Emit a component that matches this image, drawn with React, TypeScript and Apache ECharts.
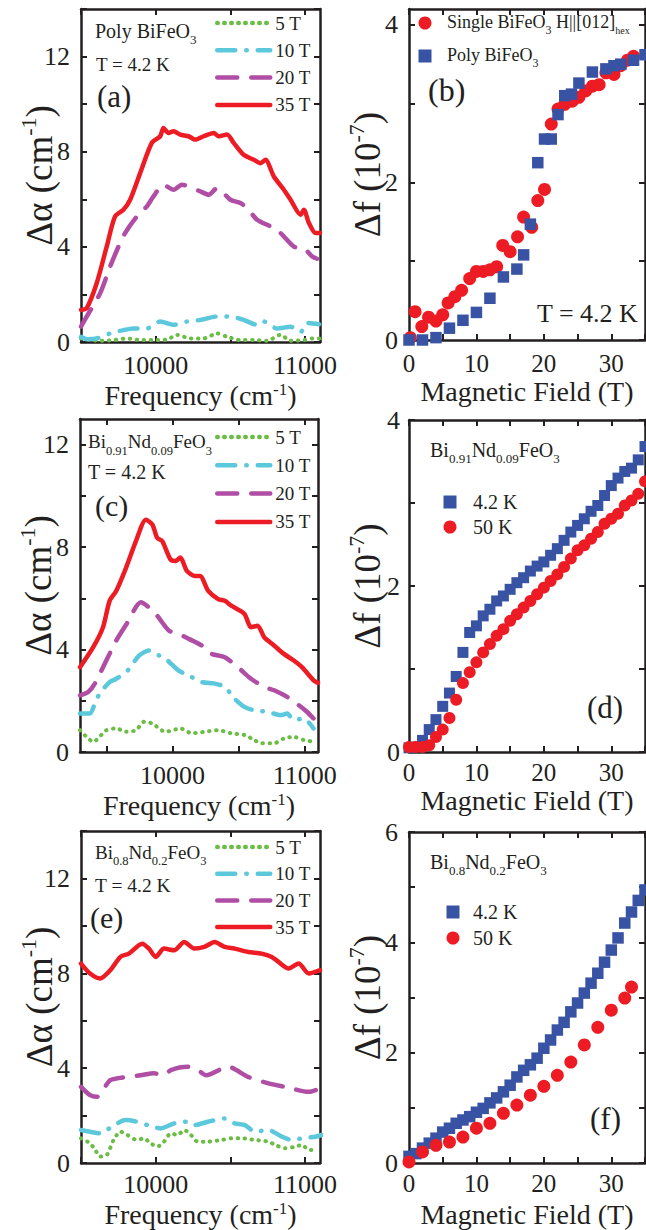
import React, { useEffect, useRef } from "react";
import * as echarts from "echarts";

type Pt = [number, number];

// ---------------- data ----------------
const FIELD_NAMES = ["5 T", "10 T", "20 T", "35 T"];

// (a) Poly BiFeO3, T = 4.2 K : [frequency cm-1, Δα cm-1]
const a5T: Pt[] = [[9500,0.15],[9560,0.1],[9627,0.05],[9717,0.08],[9806,0.15],[9896,0.08],[9985,0.08],[10075,0.1],[10142,0.3],[10232,0.15],[10321,0.15],[10411,0.36],[10478,0.22],[10567,0.08],[10657,0.08],[10746,0.05],[10836,0.3],[10903,0.05],[10992,0.08],[11048,0.15],[11100,0.15]];
const a10T: Pt[] = [[9500,0.22],[9540,0.12],[9605,0.15],[9695,0.36],[9784,0.5],[9851,0.57],[9941,0.57],[10030,0.86],[10120,0.72],[10209,0.86],[10299,0.93],[10411,1.07],[10500,1.07],[10589,0.93],[10679,0.72],[10724,0.86],[10813,0.57],[10903,0.64],[10970,0.42],[11015,0.8],[11093,0.75]];
const a20T: Pt[] = [[9500,0.65],[9538,1.07],[9628,2.05],[9695,3.17],[9751,4.01],[9795,4.58],[9874,5.28],[9941,5.7],[9985,6.12],[10052,6.61],[10120,6.4],[10176,6.61],[10299,6.33],[10355,6.19],[10411,6.47],[10500,5.98],[10567,5.84],[10612,5.63],[10679,5.14],[10768,4.86],[10836,4.58],[10925,4.01],[10992,3.94],[11048,3.59],[11080,3.5]];
const a35T: Pt[] = [[9500,1.35],[9538,1.42],[9605,2.47],[9672,4.01],[9728,5.28],[9784,5.56],[9829,5.98],[9896,7.1],[9974,8.37],[10030,8.65],[10052,9.0],[10086,8.79],[10120,8.86],[10164,8.72],[10220,8.65],[10265,8.51],[10321,8.65],[10388,8.79],[10422,8.65],[10478,8.72],[10522,8.37],[10589,7.87],[10657,7.66],[10701,7.52],[10735,7.66],[10791,6.96],[10858,6.4],[10903,5.98],[10970,5.35],[10992,5.56],[11026,5.0],[11070,4.58],[11100,4.58]];

// (c) Bi0.91Nd0.09FeO3, T = 4.2 K
const c5T: Pt[] = [[9300,0.85],[9350,0.59],[9400,0.4],[9499,0.85],[9574,0.92],[9649,0.79],[9723,0.85],[9785,1.18],[9847,1.11],[9947,0.79],[10059,0.92],[10146,0.73],[10245,0.79],[10345,0.85],[10444,0.73],[10544,0.66],[10618,0.47],[10668,0.34],[10768,0.34],[10842,0.53],[10917,0.59],[10991,0.47],[11066,0.4]];
const c10T: Pt[] = [[9300,1.5],[9375,1.5],[9412,1.89],[9449,2.28],[9524,2.73],[9574,2.86],[9660,3.18],[9748,3.77],[9822,3.96],[9897,3.77],[9947,3.64],[10046,3.18],[10146,2.92],[10220,2.73],[10320,2.67],[10395,2.54],[10469,2.08],[10544,1.76],[10618,1.63],[10718,1.57],[10817,1.44],[10867,1.5],[10917,1.24],[10991,1.31],[11066,0.92]];
const c20T: Pt[] = [[9300,2.21],[9362,2.34],[9412,2.67],[9499,3.57],[9574,4.35],[9660,5.06],[9760,5.85],[9872,5.39],[9972,4.74],[10046,4.61],[10121,4.42],[10220,4.16],[10295,3.83],[10395,3.7],[10494,3.31],[10593,2.86],[10693,2.54],[10768,2.41],[10867,2.15],[10954,1.83],[11016,1.57],[11066,1.31]];
const c35T: Pt[] = [[9300,3.31],[9400,4.09],[9474,4.87],[9524,5.9],[9574,6.29],[9649,7.2],[9723,8.23],[9798,9.07],[9847,8.88],[9884,8.36],[9922,8.23],[9984,7.52],[10022,7.46],[10059,7.59],[10108,7.07],[10171,6.87],[10208,6.87],[10270,6.29],[10345,5.97],[10395,5.9],[10444,5.71],[10544,5.39],[10593,4.87],[10643,4.93],[10693,4.48],[10768,4.16],[10842,3.83],[10917,3.57],[10979,3.31],[11066,2.8],[11100,2.7]];

// (e) Bi0.8Nd0.2FeO3, T = 4.2 K
const e5T: Pt[] = [[9500,1.04],[9561,0.83],[9595,0.55],[9628,0.27],[9673,0.34],[9718,0.97],[9764,1.32],[9809,1.18],[9876,0.97],[9921,1.04],[9966,0.83],[10011,0.69],[10056,0.9],[10101,1.25],[10146,1.18],[10191,1.39],[10236,1.18],[10281,0.9],[10349,0.9],[10439,0.97],[10506,1.04],[10574,1.04],[10664,0.97],[10755,0.9],[10800,0.76],[10867,0.62],[10935,0.69],[10980,0.76],[11025,0.55],[11070,0.55]];
const e10T: Pt[] = [[9500,1.39],[9561,1.32],[9628,1.25],[9707,1.53],[9797,1.81],[9876,1.74],[9944,1.6],[10034,1.46],[10124,1.67],[10214,1.74],[10259,1.6],[10349,1.74],[10461,1.88],[10529,1.67],[10597,1.6],[10664,1.32],[10755,1.39],[10845,1.11],[10912,0.97],[10980,1.04],[11070,1.11],[11110,1.18]];
const e20T: Pt[] = [[9500,3.21],[9561,2.86],[9606,2.79],[9696,3.49],[9809,3.63],[9899,3.7],[9989,3.78],[10056,3.7],[10101,3.92],[10214,4.06],[10281,3.92],[10338,3.7],[10484,4.06],[10619,3.63],[10755,3.36],[10867,3.21],[11025,3.0],[11100,3.14]];
const e35T: Pt[] = [[9500,8.41],[9561,7.99],[9628,7.78],[9696,8.13],[9764,8.69],[9820,8.83],[9910,9.25],[9955,9.04],[10000,8.69],[10056,9.04],[10124,8.97],[10191,9.32],[10259,9.04],[10326,9.11],[10394,9.32],[10461,9.11],[10529,9.04],[10619,8.9],[10709,8.83],[10777,8.69],[10822,8.48],[10890,8.2],[10957,8.41],[11025,7.99],[11100,8.13]];

// (b) Δf vs magnetic field : [field T, Δf 1e-7]
const B_NAMES = ["Single BiFeO3 H||[012]hex", "Poly BiFeO3"];
const bSingle: Pt[] = [[0.2,0.03],[0.9,0.36],[1.9,0.17],[2.9,0.29],[4.0,0.24],[5.0,0.32],[5.8,0.47],[6.8,0.55],[7.8,0.63],[9.0,0.78],[10,0.87],[11,0.87],[12,0.89],[13,0.93],[13.9,1.2],[15,1.12],[16.1,1.31],[17,1.56],[18.2,1.43],[19.1,1.77],[20.1,1.91],[21.1,2.74],[22.1,2.93],[23.1,2.99],[24.2,3.03],[25.2,3.08],[26.2,3.16],[27.2,3.22],[28.2,3.24],[29.2,3.39],[30.4,3.37],[31.4,3.48],[32.4,3.55],[33.3,3.6]];
const bPoly: Pt[] = [[0,0],[2,0],[4,0.03],[6,0.15],[8,0.25],[10,0.35],[12,0.53],[14,0.8],[16,0.9],[17,1.08],[18,1.47],[19.1,2.25],[20.1,2.55],[21.1,2.55],[22.1,2.86],[23.1,3.1],[24.1,3.12],[25.2,3.26],[27.2,3.4],[29.2,3.44],[30.4,3.48],[31.4,3.5],[33.3,3.55],[35,3.62]];

// (d) Bi0.91Nd0.09FeO3
const TEMP_NAMES = ["4.2 K", "50 K"];
const d42K: Pt[] = [[0,0.05],[1,0.06],[2,0.14],[3,0.27],[4,0.39],[5,0.55],[6,0.71],[7,0.91],[8,1.2],[9,1.44],[10,1.52],[11,1.64],[12,1.72],[13,1.82],[14,1.88],[15,1.96],[16,2.04],[17,2.1],[18,2.18],[19,2.24],[20,2.29],[21,2.37],[22,2.45],[23,2.55],[24,2.65],[25,2.73],[26,2.81],[27,2.9],[28,2.97],[29,3.09],[30,3.21],[31,3.3],[32,3.38],[33,3.42],[34,3.52],[35,3.68]];
const d50K: Pt[] = [[0,0.06],[1,0.06],[2,0.06],[3,0.08],[4,0.18],[5,0.27],[6,0.41],[7,0.63],[8,0.83],[9,0.96],[10,1.08],[11,1.2],[12,1.3],[13,1.4],[14,1.48],[15,1.58],[16,1.66],[17,1.74],[18,1.82],[19,1.9],[20,1.98],[21,2.06],[22,2.14],[23,2.23],[24,2.33],[25,2.43],[26,2.49],[27,2.57],[28,2.65],[29,2.75],[30,2.81],[31,2.87],[32,2.97],[33,3.03],[34,3.11],[35,3.26]];

// (f) Bi0.8Nd0.2FeO3
const f42K: Pt[] = [[0,0.12],[1,0.17],[2,0.27],[3,0.36],[4,0.45],[5,0.56],[6,0.63],[7,0.72],[8,0.78],[9,0.84],[10,0.92],[11,0.99],[12,1.09],[13,1.18],[14,1.29],[15,1.41],[16,1.56],[17,1.68],[18,1.78],[19,1.9],[20,2.08],[21,2.23],[22,2.41],[23,2.55],[24,2.74],[25,2.9],[26,3.08],[27,3.26],[28,3.44],[29,3.64],[30,3.86],[31,4.08],[32,4.35],[33,4.55],[34,4.76],[35,4.95]];
const f50K: Pt[] = [[0,0.02],[2,0.2],[4,0.32],[6,0.38],[8,0.47],[10,0.63],[12,0.72],[14,0.9],[16,1.05],[18,1.23],[20,1.39],[22,1.59],[24,1.83],[26,2.14],[28,2.46],[30,2.77],[32,2.99],[33,3.19]];

// axis ticks / labels
const FREQ_TICKS = [9500, 10000, 10500, 11000];
const FREQ_LABELS = [10000, 11000];
const ALPHA_TICKS_14 = [0, 2, 4, 6, 8, 10, 12, 14];
const ALPHA_TICKS_13 = [0, 2, 4, 6, 8, 10, 12];
const ALPHA_LABELS = [0, 4, 8, 12];
const FIELD_TICKS = [0, 5, 10, 15, 20, 25, 30, 35];
const FIELD_LABELS = [0, 10, 20, 30];
const DF_TICKS_4 = [0, 1, 2, 3, 4];
const DF_LABELS_4 = [0, 2, 4];
const DF_TICKS_6 = [0, 1, 2, 3, 4, 5, 6];
const DF_LABELS_6 = [0, 2, 4, 6];

// ---------------- styling ----------------
const SERIF = "'Liberation Serif', 'Times New Roman', serif";
const INK = "#231f20";
const RED = "#ed1c24";
const BLUE = "#3953a4";
const GREEN = "#6cbd45";
const CYAN = "#5cc8dc";
const PURPLE = "#b04ea6";

const LINE_STYLES: Record<string, any> = {
  "5 T": { color: GREEN, width: 4, type: [0.5, 6.5], cap: "round" },
  "10 T": { color: CYAN, width: 4.5, type: [18, 11, 0.5, 11], cap: "round" },
  "20 T": { color: PURPLE, width: 4.5, type: [20, 14], cap: "round" },
  "35 T": { color: RED, width: 4.5, type: "solid", cap: "round" },
};

const X_TITLE_RICH = {
  t: { fontFamily: SERIF, fontSize: 28, lineHeight: 28, color: INK },
  sup: { fontFamily: SERIF, fontSize: 17, lineHeight: 12, color: INK, verticalAlign: "top" },
};
const Y_TITLE_RICH = {
  t: { fontFamily: SERIF, fontSize: 37, lineHeight: 44, color: INK },
  sup: { fontFamily: SERIF, fontSize: 22, lineHeight: 8, color: INK, verticalAlign: "top" },
};
const FREQ_TITLE = "{t|Frequency (cm}{sup|-1}{t|)}";
const FIELD_TITLE = "{t|Magnetic Field (T)}";
const ALPHA_TITLE = "{t|Δα (cm}{sup|-1}{t|)}";
const DF_TITLE = "{t|Δf (10}{sup|-7}{t|)}";

const GRIDS = [
  { left: 81, top: 9, width: 239, height: 333 },
  { left: 409, top: 9, width: 236, height: 331 },
  { left: 80, top: 419, width: 238, height: 333 },
  { left: 409, top: 420, width: 236, height: 332 },
  { left: 81, top: 831, width: 239, height: 332 },
  { left: 409, top: 832, width: 236, height: 331 },
];

const PANELS = [
  { xMin: 9500, xMax: 11100, xTicks: FREQ_TICKS, xLabels: FREQ_LABELS, yMax: 14, yTicks: ALPHA_TICKS_14, yLabels: ALPHA_LABELS, xName: FREQ_TITLE, yName: ALPHA_TITLE, xFs: 26, xMargin: 13, xGap: 39, yMargin: 11 },
  { xMin: 0, xMax: 35, xTicks: FIELD_TICKS, xLabels: FIELD_LABELS, yMax: 4.2, yTicks: DF_TICKS_4, yLabels: DF_LABELS_4, xName: FIELD_TITLE, yName: DF_TITLE, xFs: 25, xMargin: 13, xGap: 37, yMargin: 11 },
  { xMin: 9300, xMax: 11100, xTicks: FREQ_TICKS, xLabels: FREQ_LABELS, yMax: 13, yTicks: ALPHA_TICKS_13, yLabels: ALPHA_LABELS, xName: FREQ_TITLE, yName: ALPHA_TITLE, xFs: 26, xMargin: 13, xGap: 39, yMargin: 11 },
  { xMin: 0, xMax: 35, xTicks: FIELD_TICKS, xLabels: FIELD_LABELS, yMax: 4, yTicks: DF_TICKS_4, yLabels: DF_LABELS_4, xName: FIELD_TITLE, yName: DF_TITLE, xFs: 25, xMargin: 10.5, xGap: 34, yMargin: 9 },
  { xMin: 9500, xMax: 11100, xTicks: FREQ_TICKS, xLabels: FREQ_LABELS, yMax: 14, yTicks: ALPHA_TICKS_14, yLabels: ALPHA_LABELS, xName: FREQ_TITLE, yName: ALPHA_TITLE, xFs: 26, xMargin: 11, xGap: 37, yMargin: 11 },
  { xMin: 0, xMax: 35, xTicks: FIELD_TICKS, xLabels: FIELD_LABELS, yMax: 6, yTicks: DF_TICKS_6, yLabels: DF_LABELS_6, xName: FIELD_TITLE, yName: DF_TITLE, xFs: 25, xMargin: 10.5, xGap: 37, yMargin: 11 },
];

function subRich(fs: number, sfs: number) {
  return {
    m: { fontFamily: SERIF, fontSize: fs, lineHeight: fs + 2, verticalAlign: "top", color: INK, fill: INK },
    s: { fontFamily: SERIF, fontSize: sfs, lineHeight: sfs, verticalAlign: "top", padding: [Math.round(fs * 0.62), 0, 0, 0], color: INK, fill: INK },
    h: { fontFamily: SERIF, fontSize: sfs - 2, lineHeight: sfs - 2, verticalAlign: "top", padding: [Math.round(fs * 0.68), 0, 0, 0], color: INK, fill: INK },
  };
}

function plainText(text: string, x: number, y: number, fs: number) {
  return {
    type: "text",
    x,
    y,
    z: 100,
    style: { text, fill: INK, fontFamily: SERIF, fontSize: fs, align: "left", verticalAlign: "middle", textAlign: "left", textVerticalAlign: "middle" },
  };
}
function richText(text: string, x: number, top: number, fs: number, sfs: number) {
  return {
    type: "text",
    x,
    y: top,
    z: 100,
    style: { text, rich: subRich(fs, sfs), fill: INK, fontFamily: SERIF, fontSize: fs, align: "left", verticalAlign: "top", textAlign: "left", textVerticalAlign: "top" },
  };
}

function buildOption() {
  const xAxis: any[] = [];
  const yAxis: any[] = [];
  PANELS.forEach((p, i) => {
    const axisLine = { show: true, onZero: false, lineStyle: { color: INK, width: 2.5 } };
    const tick = (vals: number[]) => ({ show: true, inside: true, length: 6, customValues: vals, lineStyle: { color: INK, width: 2 } });
    xAxis.push({
      type: "value", gridIndex: i, position: "bottom", min: p.xMin, max: p.xMax,
      axisLine, axisTick: tick(p.xTicks), splitLine: { show: false },
      axisLabel: { customValues: p.xLabels, formatter: (v: number) => String(v), margin: p.xMargin, fontFamily: SERIF, fontSize: p.xFs, lineHeight: 20, color: INK },
      name: p.xName, nameLocation: "middle", nameGap: p.xGap, nameMoveOverlap: false,
      nameTextStyle: { rich: X_TITLE_RICH },
    });
    xAxis.push({
      type: "value", gridIndex: i, position: "top", min: p.xMin, max: p.xMax,
      axisLine, axisTick: tick(p.xTicks), splitLine: { show: false }, axisLabel: { show: false },
    });
    yAxis.push({
      type: "value", gridIndex: i, position: "left", min: 0, max: p.yMax,
      axisLine, axisTick: tick(p.yTicks), splitLine: { show: false },
      axisLabel: { customValues: p.yLabels, formatter: (v: number) => String(v), margin: p.yMargin, fontFamily: SERIF, fontSize: 26, lineHeight: 22, color: INK },
      name: p.yName, nameLocation: "middle", nameGap: 20, nameMoveOverlap: false,
      nameTextStyle: { rich: Y_TITLE_RICH },
    });
    yAxis.push({
      type: "value", gridIndex: i, position: "right", min: 0, max: p.yMax,
      axisLine, axisTick: tick(p.yTicks), splitLine: { show: false }, axisLabel: { show: false },
    });
  });

  const series: any[] = [];
  const spectra: [number, Pt[][]][] = [
    [0, [a5T, a10T, a20T, a35T]],
    [2, [c5T, c10T, c20T, c35T]],
    [4, [e5T, e10T, e20T, e35T]],
  ];
  spectra.forEach(([gi, sets]) => {
    sets.forEach((data, k) => {
      const name = FIELD_NAMES[k];
      series.push({
        type: "line", name, xAxisIndex: gi * 2, yAxisIndex: gi * 2, data,
        symbol: "none", showSymbol: false, smooth: 0.25, clip: true,
        lineStyle: LINE_STYLES[name], itemStyle: { color: LINE_STYLES[name].color }, z: 2 + k,
      });
    });
  });

  const scatter = (gi: number, name: string, data: Pt[], symbol: string, size: number, color: string, z: number) => ({
    type: "scatter", name, xAxisIndex: gi * 2, yAxisIndex: gi * 2, data, symbol, symbolSize: size,
    itemStyle: { color, opacity: 1 }, clip: true, z,
  });
  series.push(scatter(1, B_NAMES[0], bSingle, "circle", 13, RED, 3));
  series.push(scatter(1, B_NAMES[1], bPoly, "rect", 11.5, BLUE, 4));
  series.push(scatter(3, TEMP_NAMES[0], d42K, "rect", 11, BLUE, 3));
  series.push(scatter(3, TEMP_NAMES[1], d50K, "circle", 12, RED, 4));
  series.push(scatter(5, TEMP_NAMES[0], f42K, "rect", 11.5, BLUE, 3));
  series.push(scatter(5, TEMP_NAMES[1], f50K, "circle", 13, RED, 4));

  const lineLegend = (top: number, gap: number) => ({
    data: FIELD_NAMES, orient: "vertical", left: 215, top, padding: 0,
    itemWidth: 53, itemHeight: 12, itemGap: gap, selectedMode: false,
    itemStyle: { opacity: 0 }, lineStyle: { width: 4.5 },
    textStyle: { fontFamily: SERIF, fontSize: 19, lineHeight: 22, color: INK },
  });
  const tempLegend = (left: number, top: number, pad: number, gap: number) => ({
    data: TEMP_NAMES, orient: "vertical", left, top, padding: 0,
    itemWidth: 13, itemHeight: 13, itemGap: gap, selectedMode: false, symbolKeepAspect: true,
    textStyle: { fontFamily: SERIF, fontSize: 20, lineHeight: 22, color: INK, padding: [0, 0, 0, pad] },
  });
  const bRich = subRich(18, 12);
  const legend = [
    lineLegend(12, 5.3),
    lineLegend(426, 6.3),
    lineLegend(836, 4.7),
    {
      data: B_NAMES, orient: "vertical", left: 418.5, top: 13, padding: 0,
      itemWidth: 13, itemHeight: 13, itemGap: 10, selectedMode: false, symbolKeepAspect: true,
      formatter: (name: string) => (name === B_NAMES[0] ? "{m|Single BiFeO}{s|3}{m| H||[012]}{h|hex}" : "{m|Poly BiFeO}{s|3}"),
      textStyle: { fontFamily: SERIF, fontSize: 18, color: INK, rich: bRich, padding: [0, 0, 0, 10.5] },
    },
    tempLegend(443.5, 491, 11.5, 3),
    tempLegend(446.5, 901, 8.5, 4),
  ];

  const graphic = [
    richText("{m|Poly BiFeO}{s|3}", 95, 21, 20, 13),
    plainText("T = 4.2 K", 96, 64, 19),
    plainText("(a)", 97, 96, 31),
    plainText("(b)", 428, 90, 32),
    plainText("T = 4.2 K", 537, 313, 26),
    richText("{m|Bi}{s|0.91}{m|Nd}{s|0.09}{m|FeO}{s|3}", 88, 432, 19, 12.5),
    plainText("T = 4.2 K", 88, 472, 20),
    plainText("(c)", 95, 505, 30),
    richText("{m|Bi}{s|0.91}{m|Nd}{s|0.09}{m|FeO}{s|3}", 430, 439.5, 20, 13),
    plainText("(d)", 587, 707, 31),
    richText("{m|Bi}{s|0.8}{m|Nd}{s|0.2}{m|FeO}{s|3}", 95, 842.5, 19, 12.5),
    plainText("T = 4.2 K", 95, 885, 19.5),
    plainText("(e)", 90, 917, 30),
    richText("{m|Bi}{s|0.8}{m|Nd}{s|0.2}{m|FeO}{s|3}", 430, 851.5, 20, 13),
    plainText("(f)", 590, 1118, 31),
  ];

  return {
    animation: false,
    backgroundColor: "#ffffff",
    textStyle: { fontFamily: SERIF },
    grid: GRIDS.map((g) => ({ ...g, containLabel: false, outerBoundsMode: "none" })),
    xAxis,
    yAxis,
    legend,
    series,
    graphic,
  };
}

export default function App() {
  const ref = useRef<HTMLDivElement>(null);
  useEffect(() => {
    if (!ref.current) return;
    const chart = echarts.init(ref.current, null, { renderer: "svg" });
    chart.setOption(buildOption() as any);
    return () => chart.dispose();
  }, []);
  return (
    <div
      ref={ref}
      style={{ position: "absolute", left: 0, top: 0, width: 646, height: 1230, background: "#fff" }}
    />
  );
}
